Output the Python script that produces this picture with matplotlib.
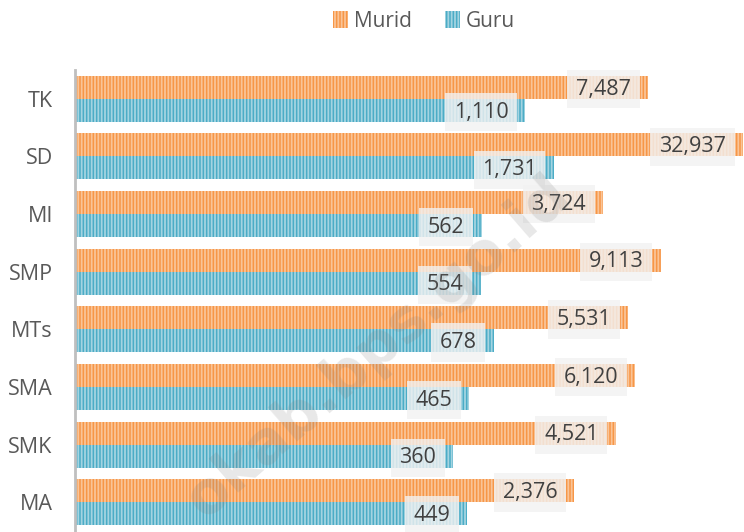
import matplotlib.pyplot as plt
import numpy as np

categories = ['TK', 'SD', 'MI', 'SMP', 'MTs', 'SMA', 'SMK', 'MA']
murid = [7487, 32937, 3724, 9113, 5531, 6120, 4521, 2376]
guru = [1110, 1731, 562, 554, 678, 465, 360, 449]

plt.rcParams['font.family'] = ['Open Sans', 'DejaVu Sans']
plt.rcParams['hatch.linewidth'] = 1.3

orange, orange_light = '#F79646', '#FAC497'
blue, blue_light = '#4BACC6', '#A3D4E1'

fig = plt.figure(figsize=(7.44, 5.32), dpi=100)
ax = fig.add_axes([75 / 744, 1 - 531 / 532, 669 / 744, 461 / 532])

y = np.arange(len(categories))
h = 0.4
ax.barh(y - h / 2, murid, height=h, color=orange, edgecolor=orange_light,
        linewidth=0, hatch='|||||', label='Murid')
ax.barh(y + h / 2, guru, height=h, color=blue, edgecolor=blue_light,
        linewidth=0, hatch='|||||', label='Guru')

ax.set_xscale('log')
ax.set_xlim(1, 10 ** 4.524)
ax.set_ylim(len(categories) - 0.5, -0.5)

box = dict(boxstyle='square,pad=0.4', fc='#F2F2F2', ec='none', alpha=0.8)
for yi, m, g in zip(y, murid, guru):
    ax.annotate(f'{m:,}', xy=(m, yi - h / 2 + 0.03), xytext=(-17, 0),
                textcoords='offset pixels', ha='right', va='center',
                fontsize=15.5, color='#404040', bbox=box)
    ax.annotate(f'{g:,}', xy=(g, yi + h / 2 + 0.03), xytext=(-17, 0),
                textcoords='offset pixels', ha='right', va='center',
                fontsize=15.5, color='#404040', bbox=box)

ax.set_yticks(y)
ax.set_yticklabels(categories, fontsize=15.5, color='#595959')
ax.tick_params(axis='y', length=0, pad=16)
ax.set_xticks([])
ax.minorticks_off()
for s in ['top', 'right', 'bottom']:
    ax.spines[s].set_visible(False)
ax.spines['left'].set_color('#BFBFBF')
ax.spines['left'].set_linewidth(2)

fig.legend(loc='upper center', bbox_to_anchor=(0.57, 1.015), ncol=2,
           frameon=False, fontsize=15, labelcolor='#595959',
           handlelength=0.7, handleheight=0.9, handletextpad=0.3,
           columnspacing=1.6)

# watermark
fig.text(0.235, 0.005, 'okab.bps.go.id', rotation=41, fontsize=42,
         fontweight='bold', color='#808080', alpha=0.18,
         ha='left', va='bottom', family='DejaVu Sans')

fig.savefig('out.png', dpi=100)
